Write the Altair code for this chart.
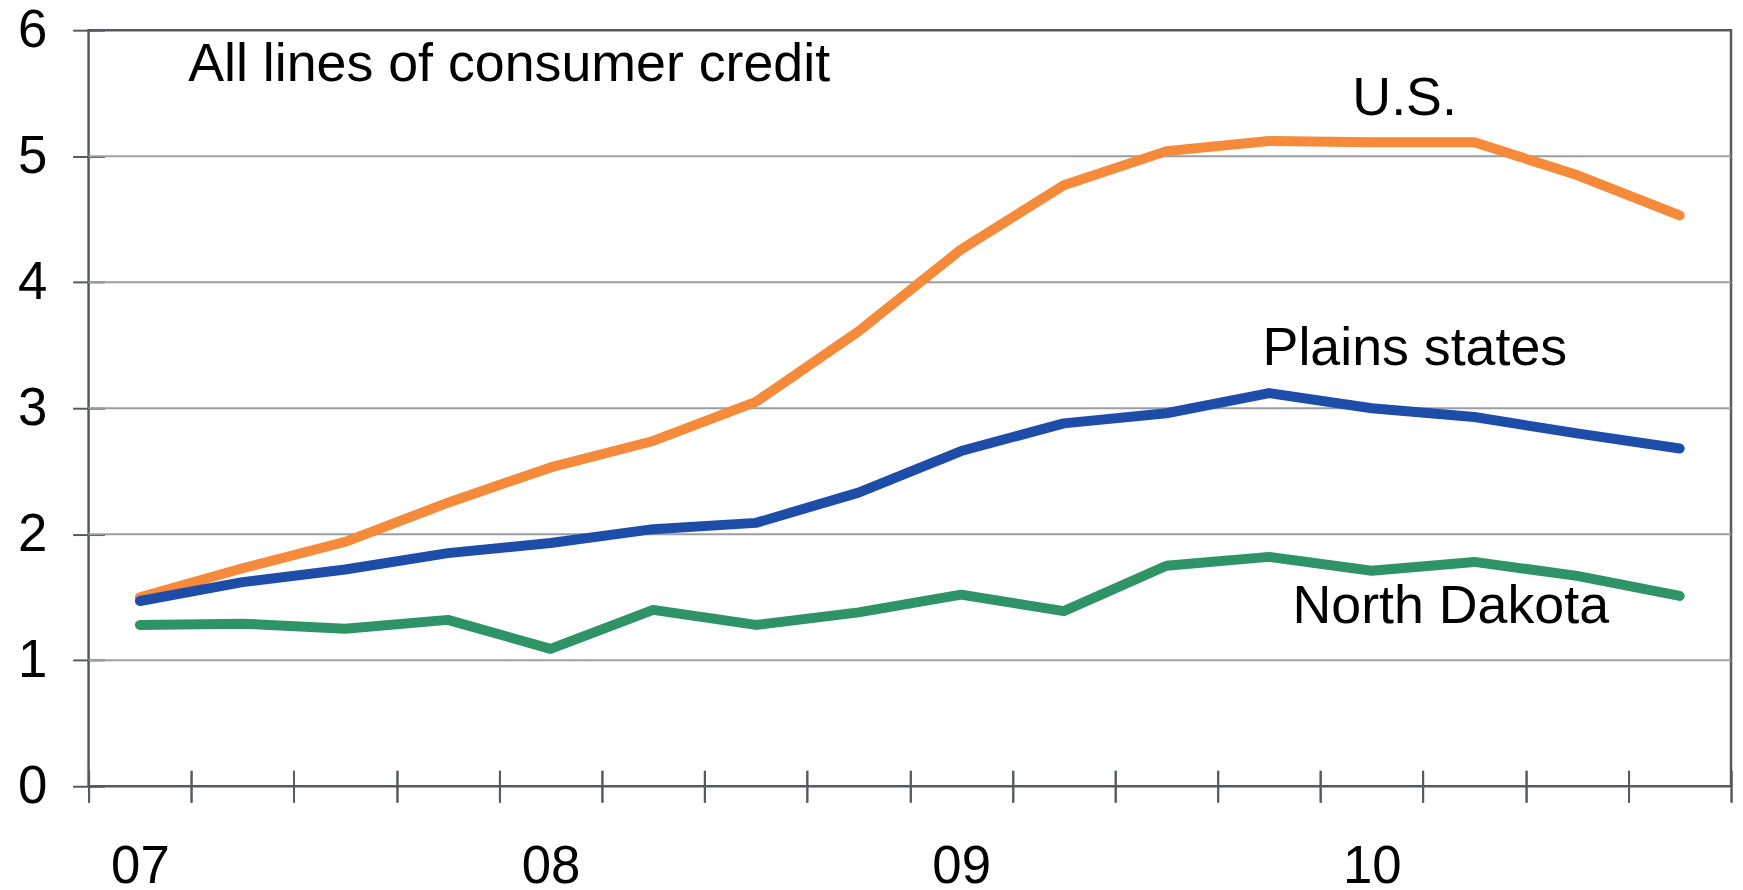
import altair as alt
import pandas as pd

# quarterly observations, 2007Q1 .. 2010Q4 (quarter index, centred in each quarter)
quarters = [i + 0.5 for i in range(16)]
us = [1.50, 1.73, 1.94, 2.25, 2.53, 2.74, 3.05, 3.61, 4.26, 4.77, 5.04, 5.12, 5.11, 5.11, 4.85, 4.53]
plains = [1.47, 1.62, 1.72, 1.85, 1.93, 2.04, 2.09, 2.33, 2.66, 2.88, 2.96, 3.12, 3.00, 2.93, 2.80, 2.68]
north_dakota = [1.28, 1.29, 1.25, 1.32, 1.09, 1.40, 1.28, 1.38, 1.52, 1.39, 1.75, 1.82, 1.71, 1.78, 1.67, 1.51]

series_names = ["U.S.", "Plains states", "North Dakota"]
series_colors = ["#F58A3A", "#1D4DA8", "#2E9468"]

year_labels = ["07", "08", "09", "10"]
year_positions = [0.5, 4.5, 8.5, 12.5]
quarter_ticks = list(range(17))
y_ticks = [0, 1, 2, 3, 4, 5, 6]
grid_values = [1, 2, 3, 4, 5]

# annotation texts
label_text = ["All lines of consumer credit", "U.S.", "Plains states", "North Dakota"]
label_x = [0.97, 12.82, 12.92, 13.27]
label_y = [5.72, 5.45, 3.47, 1.42]
label_align = ["left", "center", "center", "center"]

rows = []
for name, vals in zip(series_names, [us, plains, north_dakota]):
    for q, v in zip(quarters, vals):
        rows.append({"q": q, "value": v, "series": name})
df = pd.DataFrame(rows)

grid_df = pd.DataFrame({"v": grid_values})
lab_df = pd.DataFrame({"text": label_text, "x": label_x, "y": label_y, "align": label_align})

FONT = "Liberation Sans"
xscale = alt.Scale(domain=[0, 16], nice=False, zero=False)
yscale = alt.Scale(domain=[0, 6], nice=False)

label_expr = " : ".join(
    ["datum.value == %s ? '%s'" % (p, l) for p, l in zip(year_positions, year_labels)]
) + " : ''"

x_tick_axis = alt.Axis(orient="bottom", values=quarter_ticks, labels=False, title=None, grid=False,
                       domain=False, offset=-16, tickSize=32, tickColor="#555a60", tickWidth=2)
x_label_axis = alt.Axis(orient="bottom", values=year_positions, labelExpr=label_expr, title=None,
                        grid=False, domain=False, ticks=False, labelPadding=55, labelFont=FONT,
                        labelFontSize=53, labelColor="#000000", labelAlign="center",
                        labelOverlap=False, labelFlush=False)
y_axis = alt.Axis(orient="left", values=y_ticks, title=None, grid=False, domain=False, offset=-16,
                  tickSize=32, tickColor="#555a60", tickWidth=2, labelPadding=26, labelFont=FONT,
                  labelFontSize=53, labelColor="#000000", labelBaseline="middle")

grid = alt.Chart(grid_df).mark_rule(color="#9a9ea3", strokeWidth=2).encode(
    y=alt.Y("v:Q", scale=yscale, axis=y_axis)
)

lines = alt.Chart(df).mark_line(strokeWidth=10, strokeCap="round", strokeJoin="round").encode(
    x=alt.X("q:Q", scale=xscale, axis=x_label_axis),
    y=alt.Y("value:Q", scale=yscale, axis=y_axis),
    color=alt.Color("series:N", scale=alt.Scale(domain=series_names, range=series_colors), legend=None),
    detail="series:N",
)

labels_left = alt.Chart(lab_df[lab_df["align"] == "left"]).mark_text(
    font=FONT, fontSize=54, color="#000000", align="left", baseline="middle"
).encode(x=alt.X("x:Q", scale=xscale, axis=x_tick_axis),
         y=alt.Y("y:Q", scale=yscale, axis=y_axis), text="text:N")

labels_center = alt.Chart(lab_df[lab_df["align"] == "center"]).mark_text(
    font=FONT, fontSize=54, color="#000000", align="center", baseline="middle"
).encode(x=alt.X("x:Q", scale=xscale, axis=x_tick_axis),
         y=alt.Y("y:Q", scale=yscale, axis=y_axis), text="text:N")

chart = alt.layer(grid, lines, labels_left, labels_center).resolve_axis(
    x="independent"
).properties(
    width=1651, height=760,
    autosize=alt.AutoSizeParams(type="none"),
    padding={"left": 81, "top": 20, "right": 4, "bottom": 102},
    background="#ffffff",
).configure_view(stroke="#555a60", strokeWidth=2.5)

chart.save("out.html", embed_options={"renderer": "svg", "actions": False})
